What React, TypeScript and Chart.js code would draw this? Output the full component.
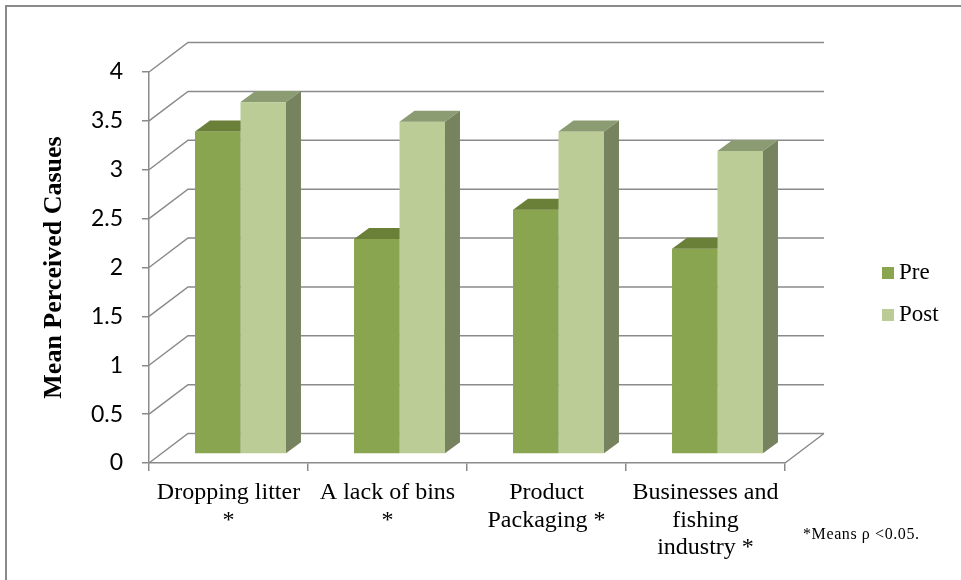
import React, { useEffect, useRef } from "react";
import { Chart, registerables } from "chart.js";
Chart.register(...registerables);

// ---- data ----
const categories: string[][] = [
  ["Dropping litter", "*"],
  ["A lack of bins", "*"],
  ["Product", "Packaging *"],
  ["Businesses and", "fishing", "industry *"],
];
const preValues = [3.3, 2.2, 2.5, 2.1];
const postValues = [3.6, 3.4, 3.3, 3.1];
const seriesNames = ["Pre", "Post"];
const yMin = 0;
const yMax = 4;
const yStep = 0.5;
const yAxisTitle = "Mean Perceived Casues";
const footnote = "*Means \u03c1 <0.05.";

// ---- style ----
const GRID = "#8a8a8a";
const FRONT = ["#8AA54F", "#BBCC97"];
const TOPS = ["#6A7F38", "#8C9C72"];
const SIDES = ["#6E8544", "#77835F"];
const SERIF = '"Liberation Serif", "Times New Roman", serif';

const WALL_DX = 39;
const WALL_DY = -29.5;
const BAR_OFF_X = 12;
const BAR_OFF_Y = -9;
const BAR_DX = 15;
const BAR_DY = -11;

const threeD = {
  id: "threeD",
  beforeDraw(chart: any) {
    const ctx = chart.ctx;
    ctx.save();
    ctx.strokeStyle = "#8a8a8a";
    ctx.lineWidth = 2;
    ctx.beginPath();
    ctx.moveTo(6, 1000);
    ctx.lineTo(6, 6);
    ctx.lineTo(1000, 6);
    ctx.stroke();
    ctx.restore();
  },
  beforeDatasetsDraw(chart: any) {
    const ctx = chart.ctx;
    const ys = chart.scales.y;
    const { left, right, bottom } = chart.chartArea;
    ctx.save();
    ctx.strokeStyle = GRID;
    ctx.lineWidth = 1.5;
    ctx.beginPath();
    ys.ticks.forEach((t: any) => {
      const py = ys.getPixelForValue(t.value);
      ctx.moveTo(left, py);
      ctx.lineTo(left + WALL_DX, py + WALL_DY);
      ctx.lineTo(right + WALL_DX, py + WALL_DY);
    });
    ctx.moveTo(right, bottom);
    ctx.lineTo(right + WALL_DX, bottom + WALL_DY);
    ctx.stroke();

    const n = chart.data.labels.length;
    for (let i = 0; i < n; i++) {
      chart.data.datasets.forEach((ds: any, d: number) => {
        const el = chart.getDatasetMeta(d).data[i];
        const { x, y, base, width } = el.getProps(["x", "y", "base", "width"], true);
        const x0 = x - width / 2 + BAR_OFF_X;
        const x1 = x + width / 2 + BAR_OFF_X;
        const yT = y + BAR_OFF_Y;
        const yB = base + BAR_OFF_Y;
        ctx.fillStyle = FRONT[d];
        ctx.fillRect(x0, yT, x1 - x0, yB - yT);
        ctx.fillStyle = TOPS[d];
        ctx.beginPath();
        ctx.moveTo(x0, yT);
        ctx.lineTo(x0 + BAR_DX, yT + BAR_DY);
        ctx.lineTo(x1 + BAR_DX, yT + BAR_DY);
        ctx.lineTo(x1, yT);
        ctx.closePath();
        ctx.fill();
        ctx.fillStyle = SIDES[d];
        ctx.beginPath();
        ctx.moveTo(x1, yT);
        ctx.lineTo(x1 + BAR_DX, yT + BAR_DY);
        ctx.lineTo(x1 + BAR_DX, yB + BAR_DY);
        ctx.lineTo(x1, yB);
        ctx.closePath();
        ctx.fill();
      });
    }
    ctx.restore();
    return false;
  },
  afterDraw(chart: any) {
    const ctx = chart.ctx;
    ctx.save();
    ctx.textBaseline = "middle";
    ctx.textAlign = "left";
    chart.data.datasets.forEach((ds: any, d: number) => {
      const cy = 273 + d * 42;
      ctx.fillStyle = FRONT[d];
      ctx.fillRect(882, cy - 6, 12, 12);
      ctx.fillStyle = "#000";
      ctx.font = `23px ${SERIF}`;
      ctx.fillText(ds.label, 899, cy);
    });
    ctx.font = `16px ${SERIF}`;
    (ctx as any).letterSpacing = "0.6px";
    ctx.fillStyle = "#000";
    ctx.fillText(footnote, 803, 535);
    ctx.restore();
  },
};

export default function App() {
  const ref = useRef<HTMLCanvasElement | null>(null);
  useEffect(() => {
    if (!ref.current) return;
    const chart = new Chart(ref.current, {
      type: "bar",
      data: {
        labels: categories,
        datasets: [
          { label: seriesNames[0], data: preValues, backgroundColor: FRONT[0], categoryPercentage: 0.572, barPercentage: 1 },
          { label: seriesNames[1], data: postValues, backgroundColor: FRONT[1], categoryPercentage: 0.572, barPercentage: 1 },
        ],
      },
      options: {
        animation: false,
        responsive: true,
        maintainAspectRatio: false,
        layout: { padding: { top: 72, right: 176, bottom: 0, left: 0 } },
        plugins: { legend: { display: false }, tooltip: { enabled: false } },
        scales: {
          x: {
            ticks: {
              color: "#000",
              font: { family: SERIF, size: 24, lineHeight: 1.15 },
              padding: 8,
              maxRotation: 0,
              minRotation: 0,
              autoSkip: false,
            },
            grid: { drawOnChartArea: false, color: GRID, lineWidth: 1.5, tickLength: 8, offset: true },
            border: { display: true, color: GRID, width: 1.5 },
            afterFit: (s: any) => {
              s.height = 117;
            },
          },
          y: {
            min: yMin,
            max: yMax,
            ticks: {
              stepSize: yStep,
              color: "#000",
              font: { family: "Lato", size: 23 },
              padding: 19,
              callback: (v: any) => String(Number(v)),
            },
            grid: { drawOnChartArea: false, color: GRID, lineWidth: 1.5, tickLength: 7 },
            border: { display: true, color: GRID, width: 1.5 },
            title: {
              display: true,
              text: yAxisTitle,
              color: "#000",
              font: { family: SERIF, size: 26, weight: "bold" },
              padding: { top: 39, bottom: 0 },
            },
            afterFit: (s: any) => {
              s.width = 149;
            },
          },
        },
      },
      plugins: [threeD],
    } as any);
    return () => chart.destroy();
  }, []);
  return (
    <div style={{ position: "fixed", left: 0, top: 0, width: 961, height: 580, background: "#fff" }}>
      <canvas ref={ref} />
    </div>
  );
}
